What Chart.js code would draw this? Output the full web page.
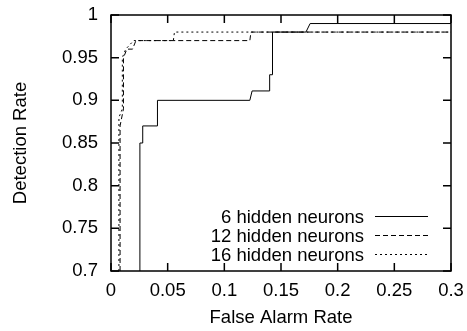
<!DOCTYPE html>
<html>
<head>
<meta charset="utf-8">
<script src="https://cdn.jsdelivr.net/npm/chart.js@4/dist/chart.umd.min.js"></script>
<style>
  html, body { margin: 0; padding: 0; background: #fff; }
  #wrap { width: 467px; height: 331px; }
</style>
</head>
<body>
<div id="wrap"><canvas id="roc" width="467" height="331"></canvas></div>
<script>
'use strict';

// ***** data *****
let seriesNames = ['6 hidden neurons', '12 hidden neurons', '16 hidden neurons'];

let sixFar = [0.0255, 0.0255, 0.028, 0.028, 0.041, 0.041, 0.1225, 0.1245, 0.140, 0.140, 0.1425, 0.1425, 0.172, 0.1757, 0.3];
let sixDet = [0.70, 0.85, 0.85, 0.87, 0.87, 0.90, 0.90, 0.911, 0.911, 0.93, 0.93, 0.98, 0.98, 0.99, 0.99];

let twelveFar = [0.008, 0.008, 0.011, 0.011, 0.014, 0.019, 0.022, 0.1225, 0.1235, 0.3];
let twelveDet = [0.70, 0.87, 0.89, 0.95, 0.96, 0.96, 0.97, 0.97, 0.98, 0.98];

let sixteenFar = [0.007, 0.007, 0.010, 0.010, 0.013, 0.020, 0.055, 0.056, 0.3];
let sixteenDet = [0.70, 0.88, 0.89, 0.95, 0.96, 0.97, 0.97, 0.98, 0.98];

let xTicks = [0, 0.05, 0.1, 0.15, 0.2, 0.25, 0.3];
let yTicks = [0.7, 0.75, 0.8, 0.85, 0.9, 0.95, 1];

// ***** helpers *****
function toPoints(xs, ys){
  let pts = [];
  for(let i = 0; i < xs.length; i++){
    pts.push({x: xs[i], y: ys[i]});
  }
  return pts;
}

const FONT = 'Liberation Sans, Arial, sans-serif';
const SIZE = 18.5;

// gnuplot style frame with inward ticks on every side
const frameTicks = {
  id: 'frameTicks',
  afterDraw(chart){
    let c = chart.ctx;
    let a = chart.chartArea;
    let xs = chart.scales.x;
    let ys = chart.scales.y;
    c.save();
    c.strokeStyle = '#000';
    c.lineWidth = 1.5;
    c.strokeRect(a.left, a.top, a.right - a.left, a.bottom - a.top);
    c.beginPath();
    xTicks.forEach(function(v){
      let px = xs.getPixelForValue(v);
      c.moveTo(px, a.bottom); c.lineTo(px, a.bottom - 8);
      c.moveTo(px, a.top); c.lineTo(px, a.top + 8);
    });
    yTicks.forEach(function(v){
      let py = ys.getPixelForValue(v);
      c.moveTo(a.left, py); c.lineTo(a.left + 8, py);
      c.moveTo(a.right, py); c.lineTo(a.right - 8, py);
    });
    c.stroke();
    c.restore();
  }
};

// legend inside the plot, text on the left, line sample on the right
const keyBox = {
  id: 'keyBox',
  afterDatasetsDraw(chart){
    let c = chart.ctx;
    c.save();
    c.font = SIZE + 'px ' + FONT;
    c.textAlign = 'right';
    c.textBaseline = 'alphabetic';
    c.fillStyle = '#000';
    chart.data.datasets.forEach(function(ds, i){
      let y = 216 + i * 19;
      c.fillText(ds.label, 364, y + 6.5);
      c.beginPath();
      c.setLineDash(ds.borderDash || []);
      c.strokeStyle = ds.borderColor;
      c.lineWidth = ds.borderWidth;
      c.moveTo(375, y + 0.5);
      c.lineTo(428, y + 0.5);
      c.stroke();
    });
    c.restore();
  }
};

const ctx = document.getElementById('roc').getContext('2d');

let rocChart = new Chart(ctx, {
  type: 'scatter',
  data: {
    datasets: [
      {
        label: seriesNames[0],
        data: toPoints(sixFar, sixDet),
        showLine: true,
        borderColor: '#000',
        borderWidth: 1,
        pointRadius: 0
      },
      {
        label: seriesNames[1],
        data: toPoints(twelveFar, twelveDet),
        showLine: true,
        borderColor: '#000',
        borderWidth: 1,
        borderDash: [5, 3],
        pointRadius: 0
      },
      {
        label: seriesNames[2],
        data: toPoints(sixteenFar, sixteenDet),
        showLine: true,
        borderColor: '#000',
        borderWidth: 1,
        borderDash: [2, 3],
        pointRadius: 0
      }
    ]
  },
  options: {
    responsive: false,
    animation: false,
    layout: { padding: { top: 15, right: 16, left: 0, bottom: 0 } },
    plugins: {
      legend: { display: false },
      tooltip: { enabled: false }
    },
    scales: {
      x: {
        type: 'linear',
        min: 0,
        max: 0.3,
        afterBuildTicks(scale){ scale.ticks = xTicks.map(function(v){ return {value: v}; }); },
        afterFit(scale){
          scale.height = 60;
          scale.paddingLeft = 0;
          scale.paddingRight = 0;
        },
        grid: { display: false, drawTicks: false },
        border: { display: false },
        ticks: {
          padding: 9,
          color: '#000',
          font: { family: FONT, size: SIZE },
          maxRotation: 0,
          autoSkip: false,
          callback: function(v){ return String(Math.round(v * 100) / 100); }
        },
        title: {
          display: true,
          text: 'False Alarm Rate',
          color: '#000',
          font: { family: FONT, size: SIZE },
          padding: { top: 0, bottom: 2 }
        }
      },
      y: {
        type: 'linear',
        min: 0.7,
        max: 1,
        afterBuildTicks(scale){ scale.ticks = yTicks.map(function(v){ return {value: v}; }); },
        afterFit(scale){
          scale.width = 111;
          scale.paddingTop = 0;
          scale.paddingBottom = 0;
        },
        grid: { display: false, drawTicks: false },
        border: { display: false },
        ticks: {
          padding: 13,
          color: '#000',
          font: { family: FONT, size: SIZE },
          autoSkip: false,
          callback: function(v){ return String(Math.round(v * 100) / 100); }
        },
        title: {
          display: true,
          text: 'Detection Rate',
          color: '#000',
          font: { family: FONT, size: SIZE },
          padding: { top: 10, bottom: 0 }
        }
      }
    }
  },
  plugins: [frameTicks, keyBox]
});
</script>
</body>
</html>
